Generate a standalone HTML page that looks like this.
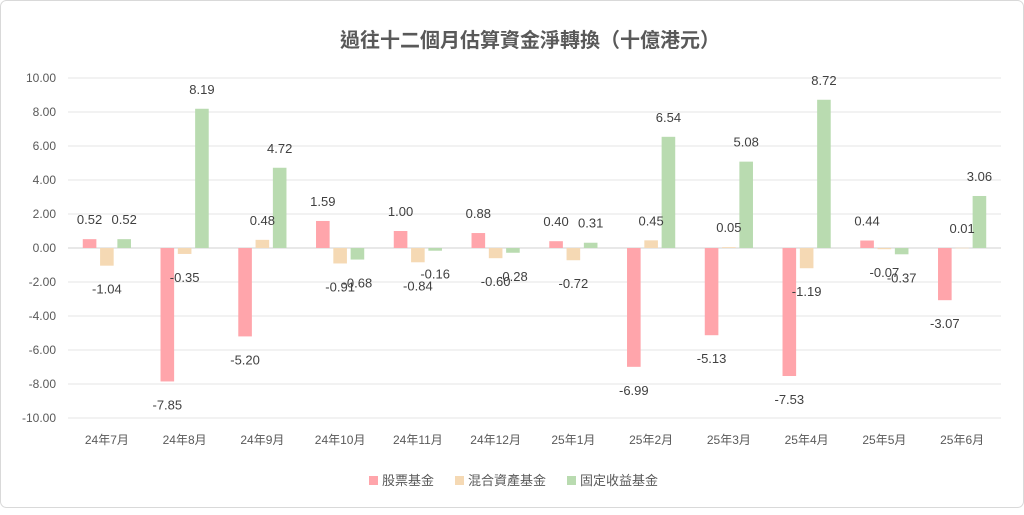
<!DOCTYPE html>
<html><head><meta charset="utf-8"><style>
body{margin:0;background:#fff;}
svg text{font-family:"Liberation Sans","Noto Sans CJK TC",sans-serif;}
</style></head><body>
<svg width="1024" height="510" viewBox="0 0 1024 510">
<rect x="0.5" y="0.5" width="1023" height="507" rx="6" fill="#fff" stroke="#d9d9d9"/>
<text x="530" y="47" text-anchor="middle" font-size="20" font-weight="bold" fill="#595959">過往十二個月估算資金淨轉換（十億港元）</text>
<g id="grid"></g><g id="bars"></g><g id="labels"></g>
<g>
<rect x="369" y="476" width="9" height="9" fill="#ffa5ab"/>
<text x="382" y="485" font-size="13" fill="#595959">股票基金</text>
<rect x="455" y="476" width="9" height="9" fill="#f5d9b4"/>
<text x="468" y="485" font-size="13" fill="#595959">混合資產基金</text>
<rect x="567" y="476" width="9" height="9" fill="#b9dbb0"/>
<text x="580" y="485" font-size="13" fill="#595959">固定收益基金</text>
</g>
</svg>
<script>
const categories=["24年7月","24年8月","24年9月","24年10月","24年11月","24年12月","25年1月","25年2月","25年3月","25年4月","25年5月","25年6月"];
const equity=[0.52,-7.85,-5.20,1.59,1.00,0.88,0.40,-6.99,-5.13,-7.53,0.44,-3.07];
const mixed=[-1.04,-0.35,0.48,-0.91,-0.84,-0.60,-0.72,0.45,0.05,-1.19,-0.07,0.01];
const fixed=[0.52,8.19,4.72,-0.68,-0.16,-0.28,0.31,6.54,5.08,8.72,-0.37,3.06];
const yTicks=[10,8,6,4,2,0,-2,-4,-6,-8,-10];
const NS="http://www.w3.org/2000/svg";
const left=68,right=1001,zeroY=248,ppu=17;
const bw=(right-left)/categories.length;
const y=v=>zeroY-v*ppu;
const xc=i=>left+bw*(i+0.5);
function mk(tag,at,parent){const e=document.createElementNS(NS,tag);for(const k in at)e.setAttribute(k,at[k]);document.getElementById(parent).appendChild(e);return e;}
yTicks.forEach(t=>{
 const l=mk('line',{x1:left,x2:right,y1:y(t),y2:y(t),stroke:t===0?'#d0d0d0':'#e4e4e4','stroke-width':1},'grid');
 
 
 const tx=mk('text',{x:56,y:y(t)+4,'text-anchor':'end','font-size':12,fill:'#595959'},'grid');
 tx.textContent=t.toFixed(2);
 
 
});
categories.forEach((c,i)=>{
 const tx=mk('text',{x:xc(i),y:444,'text-anchor':'middle','font-size':12,fill:'#595959'},'grid');
 tx.textContent=c;
 
 
});
const series=[[equity,'#ffa5ab',-17.3,'equity'],[mixed,'#f5d9b4',0,'mixed'],[fixed,'#b9dbb0',17.3,'fixed']];
series.forEach(([vals,col,off,nm])=>{
 vals.forEach((v,i)=>{
  const cx=xc(i)+off, w=13.6;
  const r=mk('rect',{x:cx-w/2,y:Math.min(y(v),zeroY),width:w,height:Math.max(Math.abs(v)*ppu,0.5),fill:col},'bars');
  
  
  const ly=v>=0?y(v)-15:y(v)+28;
  const tx=mk('text',{x:cx,y:ly,'text-anchor':'middle','font-size':13,fill:'#404040'},'labels');
  tx.textContent=v.toFixed(2);
  
  
 });
});
</script>
</body></html>
